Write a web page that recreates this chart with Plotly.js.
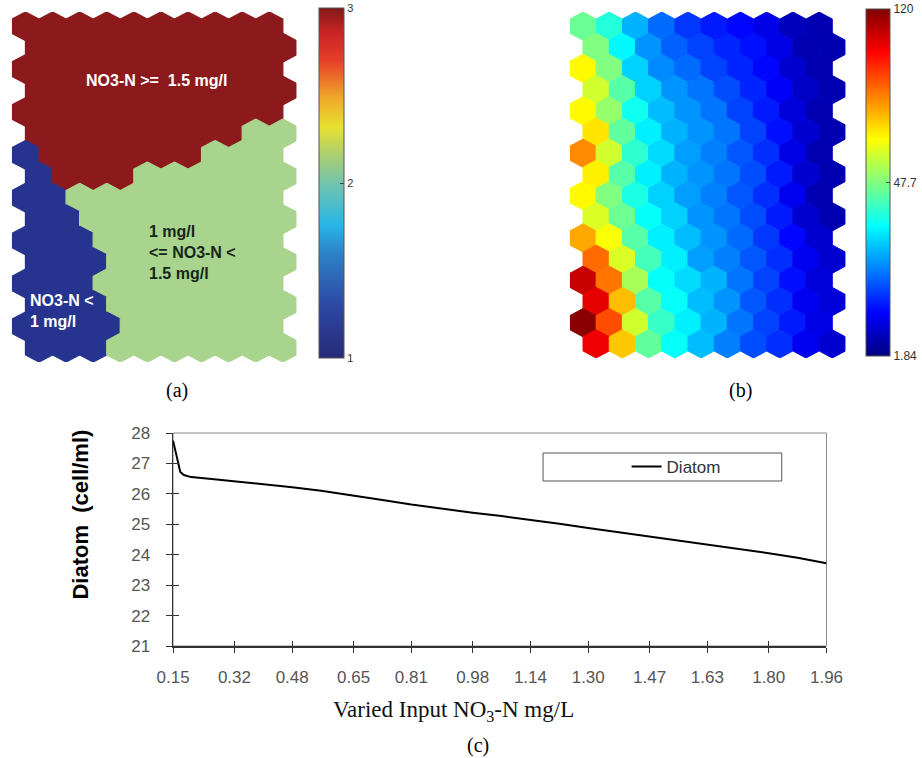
<!DOCTYPE html>
<html><head><meta charset="utf-8">
<script src="https://cdn.plot.ly/plotly-3.0.1.min.js"></script>
<style>html,body{margin:0;padding:0;background:#fff}</style>
</head><body><div id="chart" style="width:922px;height:758px"></div>
<script>
// ---------- Panel (a): SOM cluster map (16 rows x 10 columns), class 1..3 ----------
const classA = [
  [3,3,3,3,3,3,3,3,3,3],
  [3,3,3,3,3,3,3,3,3,3],
  [3,3,3,3,3,3,3,3,3,3],
  [3,3,3,3,3,3,3,3,3,3],
  [3,3,3,3,3,3,3,3,3,3],
  [3,3,3,3,3,3,3,3,2,2],
  [1,3,3,3,3,3,3,2,2,2],
  [1,3,3,3,2,2,2,2,2,2],
  [1,1,2,2,2,2,2,2,2,2],
  [1,1,2,2,2,2,2,2,2,2],
  [1,1,1,2,2,2,2,2,2,2],
  [1,1,1,2,2,2,2,2,2,2],
  [1,1,1,2,2,2,2,2,2,2],
  [1,1,1,2,2,2,2,2,2,2],
  [1,1,1,1,2,2,2,2,2,2],
  [1,1,1,2,2,2,2,2,2,2]
];
const classColors = {1:'#27348F', 2:'#A9D48D', 3:'#8C1A1D'};
const classTickVals = [1,2,3];
const classTickText = ['1','2','3'];
const classLabels = ['NO3-N >=  1.5 mg/l', '1 mg/l<br><= NO3-N <<br>1.5 mg/l', 'NO3-N <<br>1 mg/l'];

// ---------- Panel (b): SOM component plane, normalized level 0..1 ----------
const levelB = [
  [0.48,0.41,0.30,0.23,0.18,0.15,0.13,0.10,0.06,0.05],
  [0.50,0.37,0.27,0.22,0.19,0.16,0.14,0.10,0.05,0.05],
  [0.63,0.50,0.33,0.26,0.23,0.19,0.16,0.13,0.08,0.05],
  [0.58,0.46,0.33,0.27,0.24,0.20,0.16,0.12,0.07,0.05],
  [0.63,0.52,0.39,0.31,0.27,0.24,0.19,0.15,0.09,0.05],
  [0.65,0.47,0.36,0.30,0.27,0.24,0.19,0.14,0.08,0.05],
  [0.74,0.58,0.42,0.34,0.28,0.25,0.21,0.17,0.10,0.05],
  [0.64,0.46,0.36,0.30,0.27,0.24,0.20,0.15,0.08,0.05],
  [0.63,0.50,0.40,0.33,0.28,0.25,0.21,0.17,0.11,0.05],
  [0.59,0.48,0.38,0.33,0.27,0.24,0.20,0.15,0.08,0.05],
  [0.71,0.62,0.46,0.36,0.31,0.27,0.23,0.18,0.13,0.08],
  [0.77,0.59,0.44,0.36,0.28,0.25,0.21,0.17,0.11,0.08],
  [0.93,0.76,0.54,0.38,0.34,0.30,0.24,0.19,0.14,0.09],
  [0.90,0.69,0.46,0.38,0.31,0.27,0.21,0.17,0.11,0.09],
  [0.99,0.80,0.58,0.43,0.36,0.30,0.24,0.19,0.15,0.10],
  [0.89,0.68,0.47,0.38,0.31,0.25,0.20,0.17,0.11,0.08]
];
const levelTickVals = [0, 0.5, 1];
const levelTickText = ['1.84', '47.7', '120'];

// ---------- Panel (c): Diatom vs varied NO3-N ----------
const nitrate = [0.15,0.16,0.17,0.18,0.20,0.25,0.32,0.40,0.48,0.56,0.65,0.73,0.81,0.90,0.98,1.06,1.14,1.22,1.30,1.38,1.47,1.55,1.63,1.71,1.80,1.88,1.96];
const diatom  = [27.75,27.2,26.72,26.62,26.55,26.5,26.42,26.33,26.22,26.1,25.95,25.8,25.65,25.5,25.38,25.27,25.15,25.02,24.88,24.75,24.6,24.47,24.35,24.2,24.05,23.9,23.72];
const xTickVals = [0.15,0.32,0.48,0.65,0.81,0.98,1.14,1.30,1.47,1.63,1.80,1.96];
const yTickVals = [21,22,23,24,25,26,27,28];
const xTitle = 'Varied Input NO<sub>3</sub>-N mg/L';
const yTitle = 'Diatom\u00a0 (cell/ml)';

// ---------- colour scales ----------
const jetScale = [[0,'rgb(0,0,128)'],[0.125,'rgb(0,0,255)'],[0.375,'rgb(0,255,255)'],[0.625,'rgb(255,255,0)'],[0.875,'rgb(255,0,0)'],[1,'rgb(128,0,0)']];
const scaleA = [[0,'rgb(38,42,120)'],[0.15,'rgb(45,72,162)'],[0.3,'rgb(45,130,200)'],[0.38,'rgb(40,182,232)'],[0.5,'rgb(115,196,172)'],[0.58,'rgb(172,206,112)'],[0.66,'rgb(232,226,48)'],[0.75,'rgb(240,162,42)'],[0.85,'rgb(230,62,42)'],[0.93,'rgb(200,36,36)'],[1,'rgb(130,25,25)']];

function parseRGB(s){ return s.match(/\d+/g).map(Number); }
function scaleColor(scale, v){
  v = Math.max(0, Math.min(1, v));
  for (let i = 1; i < scale.length; i++) {
    if (v <= scale[i][0]) {
      const a = scale[i-1], b = scale[i];
      const t = (v - a[0]) / (b[0] - a[0]);
      const ca = parseRGB(a[1]), cb = parseRGB(b[1]);
      return 'rgb(' + ca.map((c,k)=>Math.round(c + (cb[k]-c)*t)).join(',') + ')';
    }
  }
  return scale[scale.length-1][1];
}

// ---------- hexagon geometry (pointy-top, odd rows shifted right) ----------
const NROW = 16, NCOL = 10, TOPY = 0.75*(NROW-1) + 1;
function hexCenter(r, c){ return [(r % 2 === 0 ? 0.5 : 1.0) + c, TOPY - 0.5 - 0.75*r]; }
function hexPoly(r, c){
  const [cx, cy] = hexCenter(r, c);
  return {x:[cx, cx+0.5, cx+0.5, cx, cx-0.5, cx-0.5, cx],
          y:[cy+0.5, cy+0.25, cy-0.25, cy-0.5, cy-0.25, cy+0.25, cy+0.5]};
}

const traces = [];
const centersX = [], centersY = [], flatA = [], flatB = [];
for (let r = 0; r < NROW; r++) {
  for (let c = 0; c < NCOL; c++) {
    const p = hexPoly(r, c);
    const colA = classColors[classA[r][c]];
    traces.push({type:'scatter', mode:'lines', x:p.x, y:p.y, fill:'toself', fillcolor:colA,
      line:{color:colA, width:1.3}, xaxis:'x', yaxis:'y', hoverinfo:'skip', showlegend:false});
    const colB = scaleColor(jetScale, levelB[r][c]);
    traces.push({type:'scatter', mode:'lines', x:p.x, y:p.y, fill:'toself', fillcolor:colB,
      line:{color:colB, width:1.0}, xaxis:'x2', yaxis:'y2', hoverinfo:'skip', showlegend:false});
    const cc = hexCenter(r, c);
    centersX.push(cc[0]); centersY.push(cc[1]);
    flatA.push(classA[r][c]); flatB.push(levelB[r][c]);
  }
}

const W = 922, H = 758;
const cbFont = {family:'Liberation Sans, Arial, sans-serif', size:11, color:'#333'};
// colour bar carriers
traces.push({type:'scatter', mode:'markers', x:centersX, y:centersY, xaxis:'x', yaxis:'y',
  hoverinfo:'skip', showlegend:false,
  marker:{size:1, opacity:0, color:flatA, cmin:1, cmax:3, colorscale:scaleA, showscale:true,
    colorbar:{x:321/W, xanchor:'left', y:1-8/H, yanchor:'top', len:350/H, lenmode:'fraction',
      thickness:25, thicknessmode:'pixels', xpad:0, ypad:0, outlinewidth:1, outlinecolor:'#555',
      tickvals:classTickVals, ticktext:classTickText, ticks:'inside', ticklen:4, tickcolor:'#444',
      tickfont:cbFont}}});
traces.push({type:'scatter', mode:'markers', x:centersX, y:centersY, xaxis:'x2', yaxis:'y2',
  hoverinfo:'skip', showlegend:false,
  marker:{size:1, opacity:0, color:flatB, cmin:0, cmax:1, colorscale:jetScale, showscale:true,
    colorbar:{x:871/W, xanchor:'left', y:1-9/H, yanchor:'top', len:347/H, lenmode:'fraction',
      thickness:24, thicknessmode:'pixels', xpad:0, ypad:0, outlinewidth:1, outlinecolor:'#555',
      tickvals:levelTickVals, ticktext:levelTickText, ticks:'inside', ticklen:4, tickcolor:'#444',
      tickfont:{family:'Liberation Sans, Arial, sans-serif', size:12, color:'#333'}}}});

// line chart
traces.push({type:'scatter', mode:'lines', x:nitrate, y:diatom, name:'Diatom', xaxis:'x3', yaxis:'y3',
  line:{color:'#000', width:2}, hoverinfo:'skip'});
// carrier for inner tick axes
traces.push({type:'scatter', mode:'markers', x:[nitrate[0]], y:[diatom[0]], xaxis:'x4', yaxis:'y4',
  marker:{opacity:0, size:1}, showlegend:false, hoverinfo:'skip'});

const tickFontC = {family:'Liberation Sans, Arial, sans-serif', size:17, color:'#555'};
const hidden = {visible:false, fixedrange:true, showgrid:false, zeroline:false};
const labFont = (c)=>({family:'Liberation Sans, Arial, sans-serif', size:16, color:c});
const serif = {family:'Liberation Serif, Times New Roman, serif', size:20, color:'#000'};

const layout = {
  width:W, height:H, margin:{l:0, r:0, t:0, b:0}, paper_bgcolor:'#fff', plot_bgcolor:'rgba(0,0,0,0)',
  font:{family:'Liberation Sans, Arial, sans-serif'},
  xaxis: Object.assign({domain:[12/W, 298/W], range:[0, NCOL+0.5], anchor:'y'}, hidden),
  yaxis: Object.assign({domain:[1-362/H, 1-12/H], range:[0, TOPY], anchor:'x'}, hidden),
  xaxis2: Object.assign({domain:[573/W, 850/W], range:[0, NCOL+0.5], anchor:'y2'}, hidden),
  yaxis2: Object.assign({domain:[1-358/H, 1-12/H], range:[0, TOPY], anchor:'x2'}, hidden),
  xaxis3: {domain:[174/W, 831/W], range:[0.15, 1.96], anchor:'y3', tickvals:xTickVals, tickformat:'.2f',
    ticks:'outside', ticklen:5, tickcolor:'#333', showline:true, linecolor:'#333', linewidth:1.5,
    showgrid:false, zeroline:false, tickfont:tickFontC, ticklabelstandoff:10, fixedrange:true},
  yaxis3: {domain:[1-646/H, 1-433/H], range:[21, 28], anchor:'x3', tickvals:yTickVals,
    ticks:'outside', ticklen:6, tickcolor:'#333', showline:true, linecolor:'#333', linewidth:1.5,
    showgrid:false, zeroline:false, tickfont:tickFontC, ticklabelstandoff:12, fixedrange:true},
  xaxis4: {overlaying:'x3', anchor:'y3', range:[0.15, 1.96], tickvals:xTickVals, ticks:'inside', ticklen:5,
    tickcolor:'#333', showticklabels:false, showline:false, showgrid:false, zeroline:false, fixedrange:true},
  yaxis4: {overlaying:'y3', anchor:'x3', range:[21, 28], tickvals:yTickVals, ticks:'inside', ticklen:6,
    tickcolor:'#333', showticklabels:false, showline:false, showgrid:false, zeroline:false, fixedrange:true},
  showlegend:true,
  legend:{x:630/W, xanchor:'left', y:1-467/H, yanchor:'middle', bgcolor:'rgba(0,0,0,0)', borderwidth:0,
    font:{family:'Liberation Sans, Arial, sans-serif', size:17, color:'#333'}},
  shapes:[
    {type:'rect', xref:'x3 domain', yref:'y3 domain', x0:0, x1:1, y0:0, y1:1, line:{color:'#8a8a8a', width:1}, layer:'below'},
    {type:'rect', xref:'paper', yref:'paper', x0:546/W, x1:786/W, y0:1-481/H, y1:1-453/H, line:{color:'#555', width:1}}
  ],
  annotations:[
    {xref:'x', yref:'y', x:5.32, y:9.87, xanchor:'center', yanchor:'middle', text:'<b>'+classLabels[0]+'</b>', showarrow:false, font:labFont('#fff')},
    {xref:'x', yref:'y', x:5.0, y:3.85, xanchor:'left', yanchor:'middle', align:'left', text:'<b>'+classLabels[1]+'</b>', showarrow:false, font:labFont('#16261a')},
    {xref:'x', yref:'y', x:0.6, y:1.78, xanchor:'left', yanchor:'middle', align:'left', text:'<b>'+classLabels[2]+'</b>', showarrow:false, font:labFont('#fff')},
    {xref:'paper', yref:'paper', x:80/W, y:1-515/H, xanchor:'center', yanchor:'middle', text:'<b>'+yTitle+'</b>', textangle:-90, showarrow:false,
      font:{family:'Liberation Sans, Arial, sans-serif', size:22, color:'#000'}},
    {xref:'paper', yref:'paper', x:456/W, y:1-711/H, xanchor:'center', yanchor:'middle', text:xTitle, showarrow:false,
      font:{family:'Liberation Serif, Times New Roman, serif', size:23, color:'#111'}},
    {xref:'paper', yref:'paper', x:178/W, y:1-390/H, xanchor:'center', yanchor:'middle', text:'(a)', showarrow:false, font:serif},
    {xref:'paper', yref:'paper', x:745/W, y:1-390/H, xanchor:'center', yanchor:'middle', text:'(b)', showarrow:false, font:serif},
    {xref:'paper', yref:'paper', x:481/W, y:1-745/H, xanchor:'center', yanchor:'middle', text:'(c)', showarrow:false, font:serif}
  ]
};

Plotly.newPlot('chart', traces, layout, {staticPlot:true, displayModeBar:false});
</script>
</body></html>
